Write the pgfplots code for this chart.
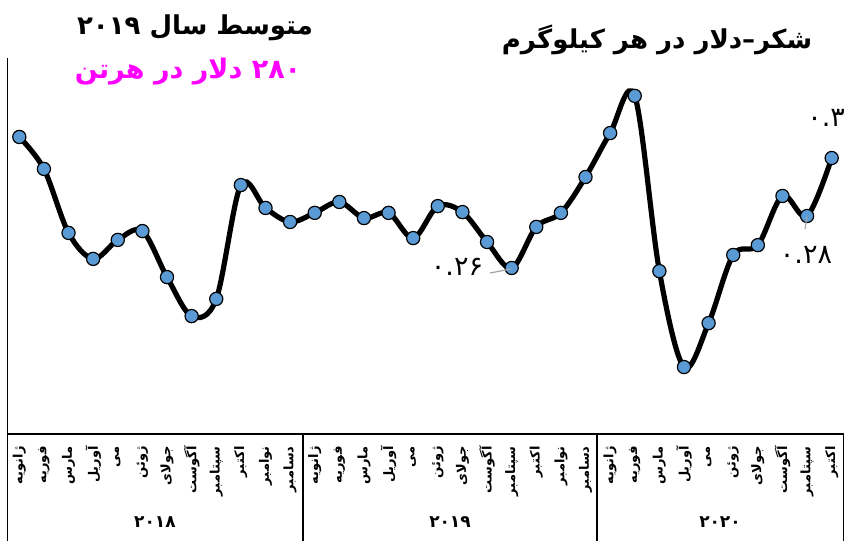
\documentclass[border=0pt]{standalone}
\usepackage{fontspec}
\usepackage{pgfplots}
\pgfplotsset{compat=1.18}
\TeXXeTstate=1
\newfontfamily\fa[Script=Arabic]{DejaVu Sans}
\definecolor{ptblue}{RGB}{91,155,213}
\definecolor{leadgray}{RGB}{165,165,165}
\definecolor{avgmag}{RGB}{255,0,255}

% sugar price, USD per kg, Jan 2018 .. Oct 2020
\pgfplotstableread{
i  v
1  0.3104
2  0.2981
3  0.2735
4  0.2635
5  0.2708
6  0.2742
7  0.2565
8  0.2415
9  0.2481
10 0.2919
11 0.2831
12 0.2777
13 0.2812
14 0.2854
15 0.2792
16 0.2812
17 0.2715
18 0.2838
19 0.2815
20 0.2700
21 0.2600
22 0.2758
23 0.2812
24 0.2950
25 0.3119
26 0.3262
27 0.2588
28 0.2219
29 0.2388
30 0.2650
31 0.2688
32 0.2877
33 0.2800
34 0.3023
}\sugar

\begin{document}
\begin{tikzpicture}
\begin{axis}[
  at={(3.5pt,53.5pt)}, anchor=south west,
  scale only axis, width=418.5pt, height=188pt,
  xmin=0.5, xmax=34.5,
  ymin=0.19615, ymax=0.34077,
  hide axis, clip=false,
]
\addplot[black, line width=2.6pt, smooth, tension=0.55,
  mark=*, mark size=3.3pt,
  mark options={fill=ptblue, draw=black, line width=0.6pt, solid}]
  table[x=i, y=v] {\sugar};
\end{axis}

\begin{scope}[x=0.5pt, y=0.5pt]
% axis frame and year boxes
\draw[line width=0.75pt] (7.5,483) -- (7.5,0);
\draw[line width=0.75pt] (7,107) -- (844,107);
\draw[line width=0.75pt] (303,107) -- (303,0);
\draw[line width=0.75pt] (597,107) -- (597,0);
\draw[line width=0.75pt] (843.5,107) -- (843.5,0);

% month labels
\foreach \m [count=\i] in {ژانویه,فوریه,مارس,آوریل,می,ژوئن,جولای,آگوست,سپتامبر,اکتبر,نوامبر,دسامبر,
  ژانویه,فوریه,مارس,آوریل,می,ژوئن,جولای,آگوست,سپتامبر,اکتبر,نوامبر,دسامبر,
  ژانویه,فوریه,مارس,آوریل,می,ژوئن,جولای,آگوست,سپتامبر,اکتبر}
  \node[rotate=90, anchor=east, inner sep=0pt, font=\fa\bfseries\fontsize{6.5}{7}\selectfont]
    at ({7+(\i-0.5)*24.6176}, 95) {\beginR\m\endR};

% year labels
\node[font=\fa\bfseries\fontsize{8.5}{10}\selectfont] at (155,19) {۲۰۱۸};
\node[font=\fa\bfseries\fontsize{8.5}{10}\selectfont] at (450,19) {۲۰۱۹};
\node[font=\fa\bfseries\fontsize{8.5}{10}\selectfont] at (720,19) {۲۰۲۰};

% titles
\node[font=\fa\bfseries\fontsize{13}{15}\selectfont] at (657,501) {\beginR شکر–دلار در هر کیلوگرم\endR};
\node[font=\fa\bfseries\fontsize{13}{15}\selectfont] at (195,513) {\beginR متوسط سال ۲۰۱۹\endR};
\node[font=\fa\bfseries\fontsize{13.5}{15}\selectfont, text=avgmag] at (188,469) {\beginR ۲۸۰ دلار در هرتن\endR};

% data labels
\draw[leadgray, line width=0.6pt] (490,268) -- (511,272);
\node[font=\fa\fontsize{13.5}{14}\selectfont] at (457,274) {۰.۲۶};
\draw[leadgray, line width=0.6pt] (807,324) -- (805,312);
\node[font=\fa\fontsize{13.5}{14}\selectfont] at (806,286) {۰.۲۸};
\node[font=\fa\fontsize{13.5}{14}\selectfont, anchor=west, inner sep=0pt] at (807,423) {۰.۳۰};
\end{scope}

\pgfresetboundingbox
\path[use as bounding box] (0,0) rectangle (423pt,270.5pt);
\end{tikzpicture}
\end{document}
